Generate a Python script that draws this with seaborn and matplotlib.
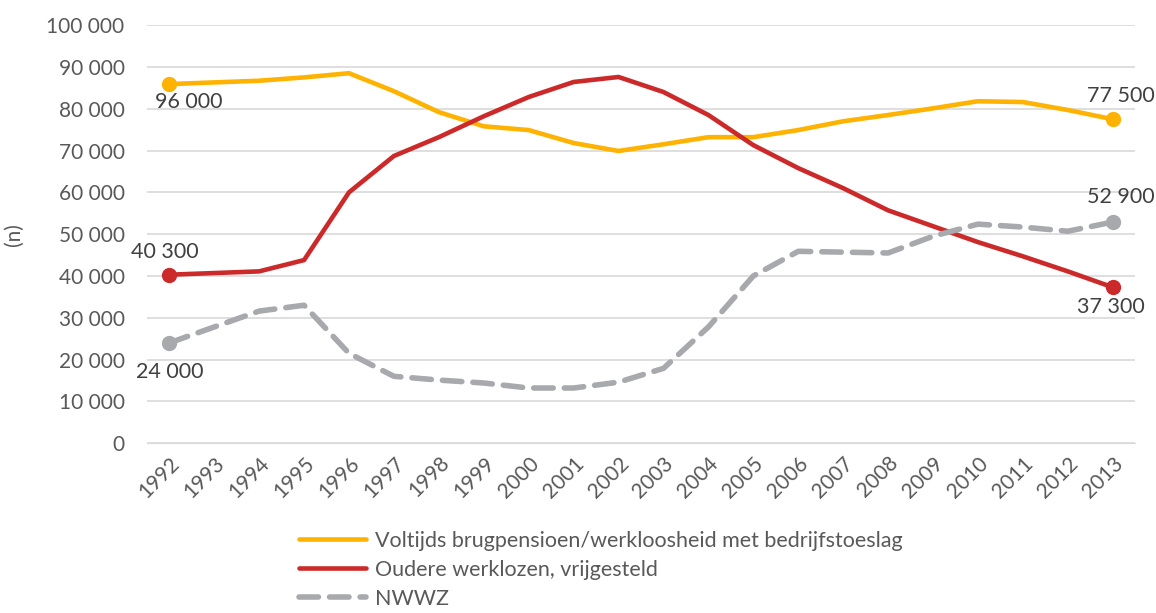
import numpy as np
import pandas as pd
import seaborn as sns
import matplotlib.pyplot as plt
from matplotlib.ticker import FuncFormatter

# data
years = list(range(1992, 2014))
brugpensioen = [85900, 86300, 86700, 87500, 88500, 84200, 79200, 75800, 74900, 71800, 69900,
                71500, 73200, 73200, 74900, 77000, 78500, 80100, 81800, 81600, 79700, 77500]
oudere_werklozen = [40300, 40700, 41100, 43800, 60000, 68700, 73200, 78200, 82800, 86400, 87600,
                    84000, 78500, 71300, 65800, 61000, 55700, 51900, 48100, 44700, 41100, 37300]
nwwz = [24000, 27800, 31600, 33000, 21500, 16000, 15100, 14400, 13200, 13200, 14600,
        17900, 27800, 40000, 45900, 45700, 45500, 49500, 52400, 51700, 50700, 52900]

series_names = ["Voltijds brugpensioen/werkloosheid met bedrijfstoeslag",
                "Oudere werklozen, vrijgesteld",
                "NWWZ"]
start_labels = ["96 000", "40 300", "24 000"]
end_labels = ["77 500", "37 300", "52 900"]

colors = ["#FFB300", "#CC2A2A", "#A7A9AC"]
text_col = "#404040"

sns.set_style("white")
plt.rcParams['font.family'] = ['Lato', 'DejaVu Sans']

fig = plt.figure(figsize=(11.56, 6.13), dpi=100)
ax = fig.add_axes([0.127, 0.277, 0.855, 0.682])

idx = np.arange(len(years))
all_series = [brugpensioen, oudere_werklozen, nwwz]
for vals, name, col in zip(all_series, series_names, colors):
    df = pd.DataFrame({"x": idx, "y": vals})
    dashed = name == "NWWZ"
    sns.lineplot(data=df, x="x", y="y", ax=ax, color=col, linewidth=3.3 if not dashed else 4,
                 linestyle=(0, (3.5, 2)) if dashed else "-", label=name,
                 solid_capstyle="round", dash_capstyle="round")
    ax.plot([idx[0], idx[-1]], [vals[0], vals[-1]], "o", color=col, markersize=10, zorder=5)

# data labels at the ends
offs_start = [(14, -13), (-3, 16), (0, -21)]
offs_end = [(6, 17), (-1, -14), (6, 18)]
for vals, s, e, os_, oe in zip(all_series, start_labels, end_labels, offs_start, offs_end):
    ax.annotate(s, (idx[0], vals[0]), xytext=os_, textcoords="offset points",
                ha="center", va="center", fontsize=15.5, color=text_col)
    ax.annotate(e, (idx[-1], vals[-1]), xytext=oe, textcoords="offset points",
                ha="center", va="center", fontsize=15.5, color=text_col)

ax.set_xlim(-0.5, len(years) - 0.5)
ax.set_ylim(0, 100000)
ax.set_yticks(np.arange(0, 100001, 10000))
ax.yaxis.set_major_formatter(FuncFormatter(lambda v, p: f"{int(v):,}".replace(",", " ")))
ax.set_xticks(idx)
ax.set_xticklabels([str(y) for y in years], rotation=45, ha="right", rotation_mode="anchor")
ax.tick_params(axis="both", labelsize=15, colors="#595959", length=0)
ax.tick_params(axis="y", pad=16)
ax.tick_params(axis="x", pad=7)
ax.grid(axis="y", color="#D9D9D9", linewidth=1.2)
for side in ["top", "right", "left"]:
    ax.spines[side].set_visible(False)
ax.spines["bottom"].set_color("#D9D9D9")
ax.set_xlabel("")
ax.set_ylabel("(n)", fontsize=15, color="#595959", labelpad=16)

ax.get_legend().remove()
handles, labels = ax.get_legend_handles_labels()
fig.legend(handles[:3], labels[:3], loc="upper left", bbox_to_anchor=(0.251, 0.148),
           frameon=False, fontsize=15.5, labelcolor="#595959", handlelength=3.1,
           handletextpad=0.45, labelspacing=0.42, borderaxespad=0)

fig.savefig("out.png", dpi=100)
